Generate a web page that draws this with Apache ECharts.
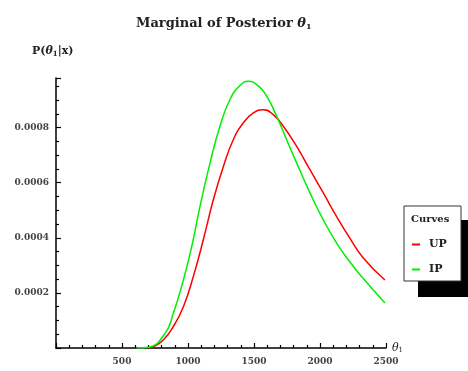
<!DOCTYPE html>
<html><head><meta charset="utf-8">
<script src="https://cdn.jsdelivr.net/npm/echarts@6/dist/echarts.min.js"></script>
<style>html,body{margin:0;padding:0;background:#fff}#c{width:468px;height:371px}</style>
</head><body><div id="c"></div>
<script>
var upX = [700, 740, 813, 889, 965, 1040, 1116, 1192, 1268, 1343, 1419, 1495, 1571, 1646, 1722, 1823, 1924, 2025, 2126, 2227, 2328, 2492];
var upY = [0, 0.000005, 0.000029, 0.000078, 0.00015, 0.000259, 0.000393, 0.000538, 0.000659, 0.000756, 0.000817, 0.000853, 0.000865, 0.000847, 0.000805, 0.000732, 0.000647, 0.000563, 0.000477, 0.000398, 0.000327, 0.000247];
var ipX = [610, 700, 826, 889, 965, 1028, 1091, 1167, 1242, 1318, 1394, 1457, 1520, 1596, 1672, 1747, 1823, 1924, 2025, 2126, 2227, 2328, 2492];
var ipY = [0, 0.000003, 0.000053, 0.000126, 0.000247, 0.000368, 0.000514, 0.000672, 0.000805, 0.000902, 0.000953, 0.000968, 0.000956, 0.000914, 0.000841, 0.000756, 0.000672, 0.000563, 0.000465, 0.000381, 0.000312, 0.000252, 0.000163];
var xTicks = [500, 1000, 1500, 2000, 2500];
var yTicks = [0.0002, 0.0004, 0.0006, 0.0008];
var seriesNames = ['UP', 'IP'];

function pairs(xs, ys) { return xs.map(function (x, i) { return [x, ys[i]]; }); }

var font = '"DejaVu Serif", serif';
var chart = echarts.init(document.getElementById('c'));
chart.setOption({
  animation: false,
  title: {
    text: 'Marginal of Posterior {i|θ}{s|1}',
    left: 131, top: 11,
    textStyle: {
      fontFamily: font, fontSize: 13, fontWeight: 'bold', color: '#222',
      rich: {
        i: { fontFamily: font, fontSize: 13, fontWeight: 'bold', fontStyle: 'italic', color: '#222' },
        s: { fontFamily: font, fontSize: 8, fontWeight: 'bold', color: '#222', padding: [7, 0, 0, 0] }
      }
    }
  },
  grid: { left: 56, right: 82, top: 78, bottom: 23 },
  xAxis: {
    type: 'value', min: 0, max: 2500, interval: 500,
    name: '{i|θ}{s|1}', nameGap: 6,
    nameTextStyle: {
      rich: {
        i: { fontFamily: font, fontSize: 11, fontStyle: 'italic', color: '#222' },
        s: { fontFamily: font, fontSize: 7, color: '#222', padding: [5, 0, 0, 0] }
      }
    },
    axisLine: { show: true, lineStyle: { color: '#000', width: 1.5 } },
    axisTick: { show: true, inside: true, length: 5, lineStyle: { color: '#000', width: 1.2 } },
    minorTick: { show: true, splitNumber: 5, length: 3, lineStyle: { color: '#000', width: 1.2 } },
    splitLine: { show: false },
    axisLabel: {
      fontFamily: font, fontSize: 9, fontWeight: 'bold', color: '#444', margin: 9,
      formatter: function (v) { return xTicks.indexOf(v) >= 0 ? String(v) : ''; }
    }
  },
  yAxis: {
    type: 'value', min: 0, max: 0.00098, interval: 0.0002,
    axisLine: { show: true, onZero: false, lineStyle: { color: '#000', width: 1.5 } },
    axisTick: { show: true, inside: true, length: 5, lineStyle: { color: '#000', width: 1.2 } },
    minorTick: { show: true, splitNumber: 4, length: 3, lineStyle: { color: '#000', width: 1.2 } },
    splitLine: { show: false },
    axisLabel: {
      fontFamily: font, fontSize: 9, fontWeight: 'bold', color: '#444', margin: 7,
      formatter: function (v) {
        for (var i = 0; i < yTicks.length; i++) if (Math.abs(v - yTicks[i]) < 1e-9) return yTicks[i].toFixed(4);
        return '';
      }
    }
  },
  legend: {
    orient: 'vertical', left: 407, top: 234, itemGap: 14, z: 10,
    icon: 'rect', itemWidth: 8, itemHeight: 2,
    data: seriesNames,
    textStyle: { fontFamily: font, fontSize: 11, fontWeight: 'bold', color: '#222', padding: [0, 0, 0, 4] }
  },
  graphic: [
    { type: 'rect', shape: { x: 418, y: 220, width: 50, height: 77 }, style: { fill: '#000' }, z: 1 },
    { type: 'rect', shape: { x: 404, y: 206, width: 57, height: 75 }, style: { fill: '#fff', stroke: '#333', lineWidth: 1 }, z: 2 },
    { type: 'text', left: 411, top: 214, z: 3, style: { text: 'Curves', font: 'bold 10px "DejaVu Serif"', fill: '#222' } },
    { type: 'text', left: 32, top: 46, z: 3, style: {
      text: '{n|P(}{i|θ}{s|1}{n||x)}',
      rich: {
        n: { fontFamily: font, fontSize: 11, fontWeight: 'bold', fill: '#222' },
        i: { fontFamily: font, fontSize: 11, fontWeight: 'bold', fontStyle: 'italic', fill: '#222' },
        s: { fontFamily: font, fontSize: 7, fontWeight: 'bold', fill: '#222', padding: [6, 0, 0, 0] }
      }
    } }
  ],
  series: [
    { name: 'UP', type: 'line', data: pairs(upX, upY), smooth: 0.5, showSymbol: false, symbol: 'none',
      color: '#ff0000', lineStyle: { color: '#ff0000', width: 1.5 } },
    { name: 'IP', type: 'line', data: pairs(ipX, ipY), smooth: 0.5, showSymbol: false, symbol: 'none',
      color: '#00ee00', lineStyle: { color: '#00ee00', width: 1.5 } }
  ]
});
</script></body></html>
